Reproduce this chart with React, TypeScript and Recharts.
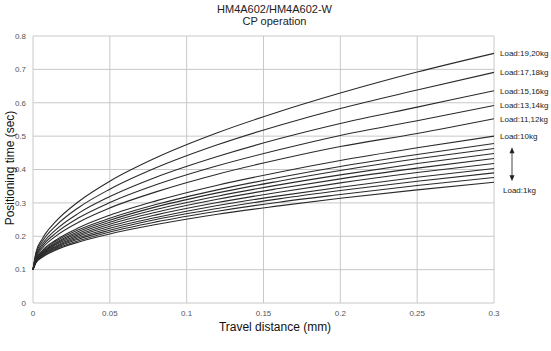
import { LineChart, Line, XAxis, YAxis, CartesianGrid } from 'recharts'

// travel distance (mm) sample points
const distance = [0, 0.002, 0.006, 0.015, 0.03, 0.05, 0.08, 0.12, 0.16, 0.2, 0.25, 0.3]

// positioning time (sec) per load
const load1 = [0.1, 0.121, 0.137, 0.159, 0.183, 0.207, 0.235, 0.266, 0.291, 0.314, 0.339, 0.362]
const load2 = [0.1, 0.123, 0.139, 0.162, 0.187, 0.213, 0.243, 0.275, 0.302, 0.325, 0.352, 0.376]
const load3 = [0.1, 0.124, 0.141, 0.165, 0.192, 0.218, 0.25, 0.283, 0.312, 0.337, 0.365, 0.39]
const load4 = [0.1, 0.125, 0.143, 0.168, 0.196, 0.224, 0.256, 0.292, 0.321, 0.347, 0.377, 0.403]
const load5 = [0.1, 0.126, 0.145, 0.171, 0.201, 0.23, 0.264, 0.301, 0.332, 0.36, 0.391, 0.418]
const load6 = [0.1, 0.127, 0.147, 0.175, 0.205, 0.236, 0.272, 0.311, 0.343, 0.372, 0.404, 0.433]
const load7 = [0.1, 0.128, 0.149, 0.178, 0.21, 0.242, 0.28, 0.32, 0.354, 0.384, 0.418, 0.448]
const load8 = [0.1, 0.13, 0.151, 0.181, 0.215, 0.248, 0.288, 0.33, 0.365, 0.397, 0.432, 0.463]
const load9 = [0.1, 0.131, 0.154, 0.185, 0.22, 0.254, 0.295, 0.339, 0.376, 0.409, 0.445, 0.478]
const load10 = [0.1, 0.133, 0.157, 0.189, 0.226, 0.263, 0.306, 0.353, 0.392, 0.427, 0.465, 0.5]
const load11_12 = [0.1, 0.137, 0.164, 0.201, 0.243, 0.285, 0.333, 0.386, 0.43, 0.469, 0.508, 0.552]
const load13_14 = [0.1, 0.14, 0.17, 0.21, 0.256, 0.301, 0.354, 0.411, 0.459, 0.502, 0.546, 0.592]
const load15_16 = [0.1, 0.144, 0.176, 0.22, 0.27, 0.319, 0.377, 0.439, 0.492, 0.538, 0.587, 0.636]
const load17_18 = [0.1, 0.148, 0.184, 0.232, 0.287, 0.341, 0.405, 0.474, 0.532, 0.583, 0.638, 0.691]
const load19_20 = [0.1, 0.153, 0.192, 0.245, 0.305, 0.365, 0.435, 0.51, 0.573, 0.629, 0.692, 0.748]

const xTicks = [0, 0.05, 0.1, 0.15, 0.2, 0.25, 0.3]
const yTicks = [0, 0.1, 0.2, 0.3, 0.4, 0.5, 0.6, 0.7, 0.8]

const series = [
  { key: 'l1', values: load1, name: 'Load:1kg' },
  { key: 'l2', values: load2, name: '' },
  { key: 'l3', values: load3, name: '' },
  { key: 'l4', values: load4, name: '' },
  { key: 'l5', values: load5, name: '' },
  { key: 'l6', values: load6, name: '' },
  { key: 'l7', values: load7, name: '' },
  { key: 'l8', values: load8, name: '' },
  { key: 'l9', values: load9, name: '' },
  { key: 'l10', values: load10, name: 'Load:10kg' },
  { key: 'l11', values: load11_12, name: 'Load:11,12kg' },
  { key: 'l13', values: load13_14, name: 'Load:13,14kg' },
  { key: 'l15', values: load15_16, name: 'Load:15,16kg' },
  { key: 'l17', values: load17_18, name: 'Load:17,18kg' },
  { key: 'l19', values: load19_20, name: 'Load:19,20kg' },
]

const data = distance.map((d, i) => {
  const row: any = { d }
  series.forEach(s => { row[s.key] = s.values[i] })
  return row
})

const FONT = '"Liberation Sans", Arial, sans-serif'
const LAST = distance.length - 1

function endLabel(name: string, isFirst: boolean) {
  return (props: any) => {
    const { x, y, index } = props
    if (index !== LAST || !name) return null
    if (isFirst) {
      // 1kg label sits below the bundle, with the arrow pointing up to 10kg
      return (
        <g>
          <text x={x + 9} y={y + 11} fontSize={8} fill="#222" fontFamily={FONT}>{name}</text>
          <line x1={x + 18} y1={y - 31} x2={x + 18} y2={y - 5} stroke="#444" strokeWidth={1} />
          <path d={`M${x + 15.5},${y - 29} L${x + 18},${y - 35} L${x + 20.5},${y - 29} Z`} fill="#222" />
          <path d={`M${x + 15.5},${y - 7} L${x + 18},${y - 1} L${x + 20.5},${y - 7} Z`} fill="#222" />
        </g>
      )
    }
    return (
      <text x={x + 6} y={y + 3} fontSize={8} fill="#222" fontFamily={FONT}>{name}</text>
    )
  }
}

export default function App() {
  return (
    <div style={{ position: 'absolute', left: 0, top: 0, width: 551, height: 351, background: '#fff', fontFamily: FONT }}>
      <div style={{ position: 'absolute', left: 0, top: 3, width: 551, textAlign: 'center', paddingLeft: 0, fontSize: 11, lineHeight: '12px', color: '#222' }}>
        <div style={{ transform: 'translateX(0px)', width: 551, textAlign: 'center', marginLeft: 0 }}>
          <div style={{ position: 'relative', left: -1 }}>HM4A602/HM4A602-W</div>
          <div style={{ position: 'relative', left: -1 }}>CP operation</div>
        </div>
      </div>
      <LineChart width={551} height={351} data={data} margin={{ top: 36, right: 57, left: 8, bottom: 28 }}>
        <CartesianGrid stroke="#c8c8c8" strokeWidth={1} />
        <XAxis
          dataKey="d"
          type="number"
          domain={[0, 0.3]}
          ticks={xTicks}
          axisLine={false}
          tickLine={false}
          tickSize={0}
          tickMargin={7}
          height={20}
          tick={{ fontSize: 8, fill: '#555', fontFamily: FONT }}
        />
        <YAxis
          type="number"
          domain={[0, 0.8]}
          ticks={yTicks}
          axisLine={false}
          tickLine={false}
          tickSize={0}
          tickMargin={7}
          width={25}
          tick={{ fontSize: 8, fill: '#555', fontFamily: FONT }}
        />
        {series.map((s, i) => (
          <Line
            key={s.key}
            dataKey={s.key}
            type="monotone"
            stroke="#2a2a2a"
            strokeWidth={1.1}
            dot={false}
            isAnimationActive={false}
            label={endLabel(s.name, i === 0)}
          />
        ))}
        <text x={275} y={331} textAnchor="middle" fontSize={12} fill="#111" fontFamily={FONT}>Travel distance (mm)</text>
        <text x={14} y={168} textAnchor="middle" fontSize={12} fill="#111" fontFamily={FONT} transform="rotate(-90 14 168)">Positioning time (sec)</text>
      </LineChart>
    </div>
  )
}
